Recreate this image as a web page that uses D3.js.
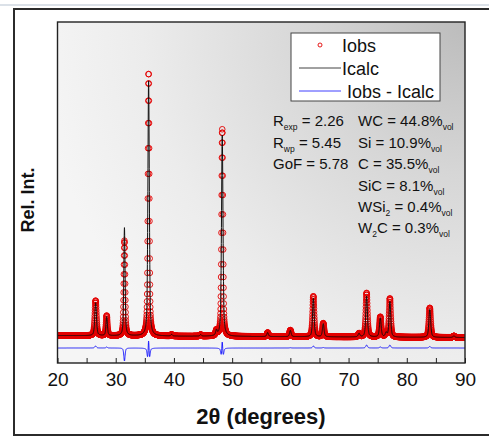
<!DOCTYPE html>
<html>
<head>
<meta charset="utf-8">
<script src="https://cdn.jsdelivr.net/npm/d3@7"></script>
<style>
  body { margin: 0; background: #ffffff; }
  svg { display: block; font-family: "Liberation Sans", Arial, sans-serif; }
</style>
</head>
<body>
<svg id="chart" width="489" height="437"></svg>
<script>
// Reflections of the fitted pattern: 2θ position (deg), FWHM (deg),
// observed and calculated peak intensities (counts above background)
const peakPos    = [26.55, 28.45, 31.50, 35.65, 39.60, 44.60, 47.30, 48.30, 56.10, 60.00, 63.95, 65.65, 71.80, 73.10, 75.45, 76.45, 77.10, 83.95, 88.10];
const obsFwhm    = [0.34,  0.28,  0.26,  0.27,  0.30,  0.30,  0.30,  0.28,  0.32,  0.32,  0.32,  0.32,  0.34,  0.34,  0.34,  0.34,  0.34,  0.36,  0.36];
const calcFwhm   = [0.34,  0.28,  0.26,  0.29,  0.30,  0.30,  0.30,  0.30,  0.32,  0.32,  0.32,  0.32,  0.34,  0.34,  0.34,  0.34,  0.34,  0.36,  0.36];
const obsHeight  = [350,   200,   950,   2630,  15,    15,    50,    2070,  40,    65,    405,   135,   35,    440,   200,   40,    385,   295,   15];
const calcHeight = [330,   190,   1080,  2560,  15,    15,    50,    2010,  40,    62,    385,   130,   35,    410,   190,   40,    355,   280,   15];

// Linear background (counts) at the start and end of the scan
const bgCounts = [305, 285];
const scanRange = [20, 90];
const scanStep = 0.02;
const diffOffset = 180;   // Iobs - Icalc is shifted to sit under the pattern
const voigtMix = 0.5;

const xTicks = [20, 25, 30, 35, 40, 45, 50, 55, 60, 65, 70, 75, 80, 85, 90];
const xTickLabels = ["20", "", "30", "", "40", "", "50", "", "60", "", "70", "", "80", "", "90"];

const legendLabels = ["Iobs", "Icalc", "Iobs - Icalc"];

// Refinement figures of merit and phase fractions; [text, isSubscript]
const statsLeft = [
  [["R", 0], ["exp", 1], [" = 2.26", 0]],
  [["R", 0], ["wp", 1], [" = 5.45", 0]],
  [["GoF = 5.78", 0]]
];
const statsRight = [
  [["WC = 44.8%", 0], ["vol", 1]],
  [["Si = 10.9%", 0], ["vol", 1]],
  [["C = 35.5%", 0], ["vol", 1]],
  [["SiC = 8.1%", 0], ["vol", 1]],
  [["WSi", 0], ["2", 1], [" = 0.4%", 0], ["vol", 1]],
  [["W", 0], ["2", 1], ["C = 0.3%", 0], ["vol", 1]]
];

// ---- profile model ----
function background(tt) {
  const f = (tt - scanRange[0]) / (scanRange[1] - scanRange[0]);
  return bgCounts[0] + (bgCounts[1] - bgCounts[0]) * f;
}
function pseudoVoigt(d, w) {
  const z = (d / w) * (d / w);
  return voigtMix / (1 + 4 * z) + (1 - voigtMix) * Math.exp(-4 * Math.LN2 * z);
}
function intensity(tt, heights, widths) {
  let s = background(tt);
  for (let i = 0; i < peakPos.length; i++) {
    const d = tt - peakPos[i];
    if (Math.abs(d) < 5) s += heights[i] * pseudoVoigt(d, widths[i]);
  }
  return s;
}

const nSteps = Math.round((scanRange[1] - scanRange[0]) / scanStep);
const pattern = d3.range(nSteps + 1).map(i => {
  const tt = scanRange[0] + i * scanStep;
  const obs = intensity(tt, obsHeight, obsFwhm);
  const calc = intensity(tt, calcHeight, calcFwhm);
  return { tt, obs, calc, diff: obs - calc + diffOffset };
});

// ---- layout ----
const svg = d3.select("#chart");
const plot = { left: 57.5, top: 22, right: 465, bottom: 363 };

const x = d3.scaleLinear().domain([20, 90]).range([plot.left, plot.right]);
const y = d3.scaleLinear().domain([30, 3440]).range([plot.bottom, plot.top]);

// page strip and outer frame
svg.append("rect").attr("x", 0).attr("y", 4).attr("width", 489).attr("height", 2).attr("fill", "#dbe1e8");
svg.append("rect").attr("x", 14).attr("y", 9).attr("width", 500).attr("height", 426)
  .attr("fill", "#ffffff").attr("stroke", "#2b2b2b").attr("stroke-width", 2);

// plot background gradient
const defs = svg.append("defs");
const grad = defs.append("radialGradient").attr("id", "plotBg")
  .attr("gradientUnits", "userSpaceOnUse")
  .attr("cx", plot.right).attr("cy", plot.top).attr("r", 430);
grad.append("stop").attr("offset", "0").attr("stop-color", "#bcbcbc");
grad.append("stop").attr("offset", "0.35").attr("stop-color", "#d6d6d6");
grad.append("stop").attr("offset", "0.75").attr("stop-color", "#ececec");
grad.append("stop").attr("offset", "1").attr("stop-color", "#f5f5f5");

defs.append("clipPath").attr("id", "plotClip").append("rect")
  .attr("x", plot.left).attr("y", plot.top)
  .attr("width", plot.right - plot.left).attr("height", plot.bottom - plot.top);

svg.append("rect").attr("x", plot.left).attr("y", plot.top)
  .attr("width", plot.right - plot.left).attr("height", plot.bottom - plot.top)
  .attr("fill", "url(#plotBg)");

const g = svg.append("g").attr("clip-path", "url(#plotClip)");

// observed points
g.append("g").selectAll("circle").data(pattern).join("circle")
  .attr("cx", d => x(d.tt)).attr("cy", d => y(d.obs)).attr("r", 2.8)
  .attr("fill", "none").attr("stroke", "#e30000").attr("stroke-width", 0.9);

// calculated profile
g.append("path").datum(pattern)
  .attr("d", d3.line().x(d => x(d.tt)).y(d => y(d.calc)))
  .attr("fill", "none").attr("stroke", "#111111").attr("stroke-width", 1);

// difference curve
g.append("path").datum(pattern)
  .attr("d", d3.line().x(d => x(d.tt)).y(d => y(d.diff)))
  .attr("fill", "none").attr("stroke", "#1010ff").attr("stroke-width", 0.9);

// x axis with inward ticks
const xAxis = d3.axisBottom(x).tickValues(xTicks)
  .tickFormat((d, i) => xTickLabels[i]).tickSize(-5).tickPadding(10);
const ax = svg.append("g").attr("transform", `translate(0,${plot.bottom})`).call(xAxis);
ax.select(".domain").remove();
ax.selectAll(".tick line").attr("stroke", "#222").attr("stroke-width", 1);
ax.selectAll(".tick text").attr("fill", "#111").style("font-size", "19px")
  .style("font-family", "'Liberation Sans', Arial, sans-serif");

// plot frame
svg.append("rect").attr("x", plot.left).attr("y", plot.top)
  .attr("width", plot.right - plot.left).attr("height", plot.bottom - plot.top)
  .attr("fill", "none").attr("stroke", "#222").attr("stroke-width", 1.4);

// axis titles
svg.append("text").attr("transform", "translate(34,200) rotate(-90)")
  .attr("text-anchor", "middle").style("font-size", "18px").style("font-weight", "bold")
  .attr("fill", "#111").text("Rel. Int.");
svg.append("text").attr("x", 261).attr("y", 424)
  .attr("text-anchor", "middle").style("font-size", "22px").style("font-weight", "bold")
  .attr("fill", "#111").text("2θ (degrees)");

// legend
const lg = svg.append("g");
lg.append("rect").attr("x", 291).attr("y", 33).attr("width", 149).attr("height", 68)
  .attr("fill", "#ffffff").attr("stroke", "#444").attr("stroke-width", 1);
const rowY = [45, 68, 91];
const textX = [342, 342, 347];
lg.append("circle").attr("cx", 320).attr("cy", rowY[0]).attr("r", 2)
  .attr("fill", "none").attr("stroke", "#e30000").attr("stroke-width", 0.9);
lg.append("line").attr("x1", 299).attr("x2", 341).attr("y1", rowY[1]).attr("y2", rowY[1])
  .attr("stroke", "#111").attr("stroke-width", 0.8);
lg.append("line").attr("x1", 299).attr("x2", 341).attr("y1", rowY[2]).attr("y2", rowY[2])
  .attr("stroke", "#1010ff").attr("stroke-width", 0.8);
legendLabels.forEach((t, i) => {
  lg.append("text").attr("x", textX[i]).attr("y", rowY[i] + 7)
    .style("font-size", "18px").attr("fill", "#111").text(t);
});

// statistics block
function writeLines(lines, x0, baselines) {
  lines.forEach((segs, i) => {
    const t = svg.append("text").attr("x", x0).attr("y", baselines[i])
      .style("font-size", "15px").attr("fill", "#111");
    let shifted = 0;
    segs.forEach(([s, sub]) => {
      const target = sub ? 4 : 0;
      t.append("tspan").attr("dy", target - shifted)
        .style("font-size", sub ? "8.5px" : "15px").text(s);
      shifted = target;
    });
  });
}
const statBaselines = [126, 147.5, 169, 190.5, 212, 233];
writeLines(statsLeft, 273, statBaselines);
writeLines(statsRight, 358, statBaselines);
</script>
</body>
</html>
